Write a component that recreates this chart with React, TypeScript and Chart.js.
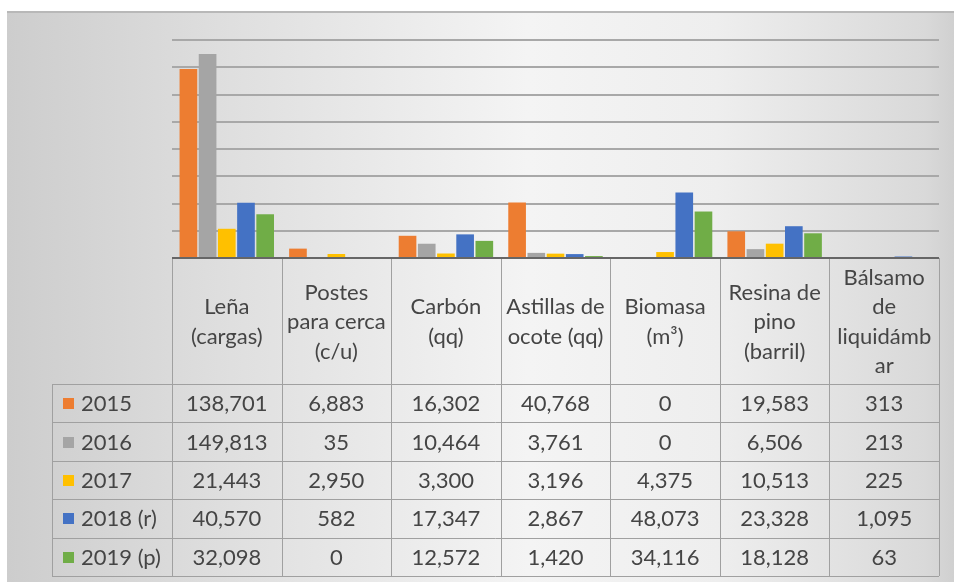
import { useEffect, useRef } from 'react';
import { Chart, registerables } from 'chart.js';

Chart.register(...registerables);

// ---- data ----
const categories = [
  'Leña (cargas)',
  'Postes para cerca (c/u)',
  'Carbón (qq)',
  'Astillas de ocote (qq)',
  'Biomasa (m³)',
  'Resina de pino (barril)',
  'Bálsamo de liquidámbar',
];
const headerLines = [
  ['Leña', '(cargas)'],
  ['Postes', 'para cerca', '(c/u)'],
  ['Carbón', '(qq)'],
  ['Astillas de', 'ocote (qq)'],
  ['Biomasa', '(m³)'],
  ['Resina de', 'pino', '(barril)'],
  ['Bálsamo', 'de', 'liquidámb', 'ar'],
];
const seriesNames = ['2015', '2016', '2017', '2018 (r)', '2019 (p)'];
const v2015 = [138701, 6883, 16302, 40768, 0, 19583, 313];
const v2016 = [149813, 35, 10464, 3761, 0, 6506, 213];
const v2017 = [21443, 2950, 3300, 3196, 4375, 10513, 225];
const v2018 = [40570, 582, 17347, 2867, 48073, 23328, 1095];
const v2019 = [32098, 0, 12572, 1420, 34116, 18128, 63];
const seriesValues = [v2015, v2016, v2017, v2018, v2019];
const seriesColors = ['#ED7D31', '#A5A5A5', '#FFC000', '#4472C4', '#70AD47'];
const yMax = 160000;
const yStep = 20000;

// ---- layout / style constants ----
const W = 954;
const H = 585;
const FONT = '22px Lato, "Open Sans", sans-serif';
const TEXT = '#454545';
const HEADER_BOTTOM = 384;
const TABLE_BOTTOM = 576;
const LEGEND_LEFT = 52;
const HEADER_LINE = 29.5;

const fmt = (n: number) => n.toLocaleString('en-US');

const bgPlugin = {
  id: 'bgPlugin',
  beforeDraw(chart: any) {
    const ctx = chart.ctx as CanvasRenderingContext2D;
    ctx.save();
    ctx.fillStyle = '#ffffff';
    ctx.fillRect(0, 0, W, H);
    const g = ctx.createLinearGradient(7, 0, W, 0);
    g.addColorStop(0, '#cdcdcd');
    g.addColorStop(0.25, '#e0e0e0');
    g.addColorStop(0.55, '#f4f4f4');
    g.addColorStop(0.75, '#eeeeee');
    g.addColorStop(0.97, '#d9d9d9');
    g.addColorStop(1, '#d0d0d0');
    ctx.fillStyle = g;
    ctx.fillRect(7, 12, W - 7, 570);
    ctx.fillStyle = '#b8b8b8';
    ctx.fillRect(7, 11, W - 7, 2);
    ctx.restore();
  },
};

const tablePlugin = {
  id: 'tablePlugin',
  afterDraw(chart: any) {
    const ctx = chart.ctx as CanvasRenderingContext2D;
    const area = chart.chartArea;
    const xs = chart.scales.x;
    const n = categories.length;
    const colW = (area.right - area.left) / n;
    const top = area.bottom;
    const rows = seriesNames.length;
    const rowH = (TABLE_BOTTOM - HEADER_BOTTOM) / rows;
    ctx.save();

    // grid lines of the table
    ctx.strokeStyle = '#a0a0a0';
    ctx.lineWidth = 1;
    ctx.beginPath();
    for (let i = 0; i <= n; i++) {
      const x = Math.round(area.left + i * colW) + 0.5;
      ctx.moveTo(x, top);
      ctx.lineTo(x, TABLE_BOTTOM);
    }
    const lx = LEGEND_LEFT + 0.5;
    ctx.moveTo(lx, HEADER_BOTTOM);
    ctx.lineTo(lx, TABLE_BOTTOM);
    for (let r = 0; r <= rows; r++) {
      const y = Math.round(HEADER_BOTTOM + r * rowH) + 0.5;
      ctx.moveTo(LEGEND_LEFT, y);
      ctx.lineTo(area.right, y);
    }
    ctx.stroke();

    // axis line
    ctx.strokeStyle = '#666666';
    ctx.lineWidth = 2;
    ctx.beginPath();
    ctx.moveTo(area.left, top);
    ctx.lineTo(area.right, top);
    ctx.stroke();

    // header text
    ctx.font = FONT;
    ctx.fillStyle = TEXT;
    ctx.textAlign = 'center';
    ctx.textBaseline = 'middle';
    const labels = chart.data.labels as string[][];
    const hc = (top + HEADER_BOTTOM) / 2 + 1;
    for (let i = 0; i < n; i++) {
      const cx = xs.getPixelForValue(i);
      const lines = labels[i];
      const start = hc - ((lines.length - 1) * HEADER_LINE) / 2;
      lines.forEach((l, k) => ctx.fillText(l, cx, start + k * HEADER_LINE));
    }

    // rows
    for (let r = 0; r < rows; r++) {
      const cy = HEADER_BOTTOM + r * rowH + rowH / 2 + 1;
      ctx.fillStyle = seriesColors[r];
      ctx.fillRect(63, Math.round(cy - 6), 11, 11);
      ctx.fillStyle = TEXT;
      ctx.textAlign = 'left';
      ctx.fillText(seriesNames[r], 81, cy);
      ctx.textAlign = 'center';
      const vals = chart.data.datasets[r].data as number[];
      for (let i = 0; i < n; i++) {
        ctx.fillText(fmt(vals[i]), xs.getPixelForValue(i), cy);
      }
    }
    ctx.restore();
  },
};

export default function App() {
  const ref = useRef<HTMLCanvasElement | null>(null);
  useEffect(() => {
    if (!ref.current) return;
    const chart = new Chart(ref.current, {
      type: 'bar',
      data: {
        labels: headerLines,
        datasets: seriesNames.map((name, i) => ({
          label: name,
          data: seriesValues[i],
          backgroundColor: seriesColors[i],
          borderWidth: 0,
          categoryPercentage: 0.876,
          barPercentage: 0.92,
        })),
      },
      options: {
        animation: false,
        responsive: false,
        maintainAspectRatio: false,
        layout: { padding: { left: 172, right: 15, top: 40, bottom: H - 258 } },
        plugins: {
          legend: { display: false },
          title: { display: false },
          tooltip: { enabled: false },
        },
        scales: {
          x: { display: false, offset: true },
          y: {
            min: 0,
            max: yMax,
            ticks: { display: false, stepSize: yStep },
            border: { display: false },
            grid: { color: '#a8a8a8', lineWidth: 2, drawTicks: false },
          },
        },
      },
      plugins: [bgPlugin, tablePlugin],
    });
    return () => chart.destroy();
  }, []);
  return (
    <div style={{ position: 'fixed', left: 0, top: 0, width: W, height: H }}>
      <canvas ref={ref} width={W} height={H} style={{ width: W, height: H, display: 'block' }} aria-label={categories.join(', ')} />
    </div>
  );
}
